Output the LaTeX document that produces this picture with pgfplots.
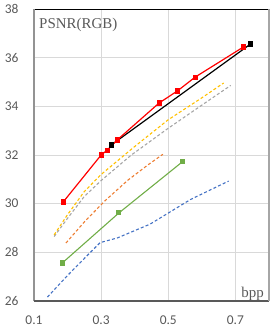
\documentclass[border=0pt]{standalone}
\usepackage{pgfplots}
\pgfplotsset{compat=1.18}
\usepackage{fontspec}
\setmainfont{Liberation Serif}
\newfontfamily\calibri{Carlito}
\definecolor{txtgrey}{HTML}{595959}
\definecolor{gridgrey}{HTML}{D9D9D9}
\definecolor{cyel}{HTML}{FFC000}
\definecolor{cgry}{HTML}{A5A5A5}
\definecolor{corg}{HTML}{ED7D31}
\definecolor{cgrn}{HTML}{70AD47}
\definecolor{cblu}{HTML}{4472C4}
\begin{document}
\begin{tikzpicture}
\begin{axis}[
  scale only axis, width=235bp, height=292bp,
  xmin=0.1, xmax=0.8, ymin=26, ymax=38,
  xtick={0.1,0.3,0.5,0.7}, ytick={26,28,...,38},
  xticklabels={0.1,0.3,0.5,0.7},
  yticklabels={26,28,30,32,34,36,38},
  major tick length=0pt,
  grid=major, major grid style={gridgrey, line width=0.8pt},
  axis line style={draw=none},
  tick label style={font=\calibri\fontsize{13.5}{14}\selectfont, text=txtgrey},
  yticklabel style={xshift=-12bp},
  xticklabel style={yshift=-11bp},
  clip=false,
]
\addplot[cblu, line width=1.1pt, dash pattern=on 3pt off 2.2pt] coordinates {
 (0.14,26.16) (0.2,27.05) (0.25,27.75) (0.297,28.4) (0.348,28.59) (0.446,29.16) (0.566,30.17) (0.68,30.93)};
\addplot[corg, line width=1.1pt, dash pattern=on 3pt off 2.2pt] coordinates {
 (0.195,28.38) (0.25,29.25) (0.31,30.1) (0.38,30.97) (0.44,31.6) (0.484,32.03)};
\addplot[cgry, line width=1.1pt, dash pattern=on 3pt off 2.2pt] coordinates {
 (0.16,28.65) (0.2,29.4) (0.25,30.3) (0.3,30.95) (0.39,32.0) (0.5,33.1) (0.6,34.05) (0.686,34.86)};
\addplot[cyel, line width=1.1pt, dash pattern=on 3pt off 2.2pt] coordinates {
 (0.16,28.72) (0.2,29.55) (0.25,30.5) (0.3,31.2) (0.4,32.35) (0.5,33.45) (0.6,34.35) (0.665,34.96)};
\addplot[cgrn, line width=1.1pt, mark=square*, mark size=2pt, mark options={solid}] coordinates {
 (0.184,27.56) (0.353,29.62) (0.542,31.72)};
\addplot[black, line width=1.2pt, mark=square*, mark size=2pt] coordinates {
 (0.33,32.41) (0.745,36.56)};
\addplot[red, line width=1.2pt, mark=square*, mark size=2pt] coordinates {
 (0.187,30.07) (0.3,32.0) (0.318,32.2) (0.348,32.62) (0.473,34.14) (0.527,34.63) (0.58,35.2) (0.724,36.44)};
\draw[black, line width=0.8pt] (rel axis cs:0,1) -- (rel axis cs:1,1);
\draw[gray!85, line width=1.4pt] (rel axis cs:0,0) -- (rel axis cs:0,1);
\draw[txtgrey, line width=1.4pt] (rel axis cs:0,0) -- (rel axis cs:1,0);
\draw[gray!70, line width=2pt] (rel axis cs:1,0) -- (rel axis cs:1,1);
\node[anchor=base west, inner sep=0pt, text=txtgrey, font=\fontsize{15}{16}\selectfont] at ([shift={(5bp,-20bp)}]rel axis cs:0,1) {PSNR(RGB)};
\node[anchor=base east, inner sep=0pt, text=txtgrey, font=\fontsize{15}{16}\selectfont] at ([shift={(-5bp,4bp)}]rel axis cs:1,0) {bpp};
\end{axis}
\pgfresetboundingbox
\path ([shift={(-34bp,-28bp)}]current axis.south west) rectangle ([shift={(3bp,9bp)}]current axis.north east);
\end{tikzpicture}
\end{document}
